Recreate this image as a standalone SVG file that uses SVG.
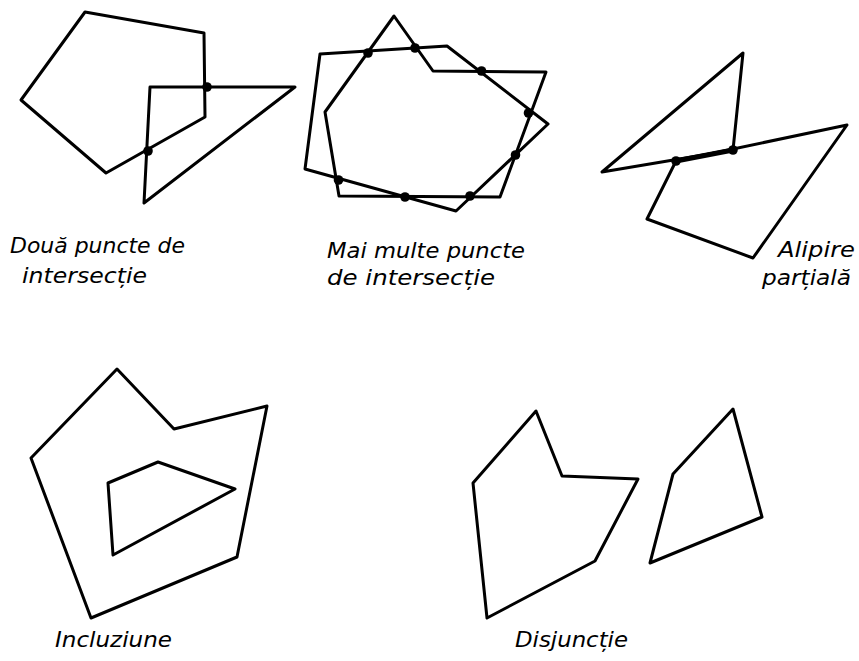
<svg xmlns="http://www.w3.org/2000/svg" width="859" height="661" viewBox="0 0 859 661">
<style>
.poly{fill:none;stroke:#000;stroke-width:3;stroke-linejoin:round;stroke-linecap:round}
.dot{fill:#000}
.lbl{font-family:"DejaVu Sans","Liberation Sans",sans-serif;font-style:oblique;font-size:22px;fill:#000}
</style>
<rect width="859" height="661" fill="#fff"/>
<g id="fig-doua">
<polygon class="poly" points="85,12 204,33 205,117 106,173 21,100"/>
<polygon class="poly" points="150,87 295,87 144,203"/>
<circle class="dot" cx="207" cy="87" r="4.8"/>
<circle class="dot" cx="148" cy="151" r="4.8"/>
<text class="lbl" x="10" y="253" textLength="175" lengthAdjust="spacingAndGlyphs">Două puncte de</text>
<text class="lbl" x="22" y="283" textLength="125" lengthAdjust="spacingAndGlyphs">intersecție</text>
</g>
<g id="fig-mai-multe">
<polygon class="poly" points="320,54 447,46 548,124 456,211 305,169"/>
<polygon class="poly" points="394,16 433,71 546,72 500,197 339,196 325,112"/>
<circle class="dot" cx="368" cy="53" r="4.8"/>
<circle class="dot" cx="415" cy="48" r="4.8"/>
<circle class="dot" cx="481.5" cy="71" r="4.8"/>
<circle class="dot" cx="528.5" cy="113" r="4.8"/>
<circle class="dot" cx="515.5" cy="155" r="4.8"/>
<circle class="dot" cx="470" cy="196" r="4.8"/>
<circle class="dot" cx="405" cy="197" r="4.8"/>
<circle class="dot" cx="338.5" cy="180" r="4.8"/>
<text class="lbl" x="327" y="258" textLength="198" lengthAdjust="spacingAndGlyphs">Mai multe puncte</text>
<text class="lbl" x="327" y="285" textLength="168" lengthAdjust="spacingAndGlyphs">de intersecție</text>
</g>
<g id="fig-alipire">
<polygon class="poly" points="743,53 733,150 602,172"/>
<polygon class="poly" points="676,161 847,125 753,258 647,219"/>
<line x1="676" y1="161" x2="733" y2="150" stroke="#000" stroke-width="5"/>
<circle class="dot" cx="676" cy="161" r="4.8"/>
<circle class="dot" cx="733" cy="150" r="4.8"/>
<text class="lbl" x="778" y="257" textLength="77" lengthAdjust="spacingAndGlyphs">Alipire</text>
<text class="lbl" x="762" y="285" textLength="89" lengthAdjust="spacingAndGlyphs">parțială</text>
</g>
<g id="fig-incluziune">
<polygon class="poly" points="117,369 174,429 267,406 237,557 91,618 31,458"/>
<polygon class="poly" points="158,462 235,489 113,555 108,483"/>
<text class="lbl" x="55" y="647" textLength="117" lengthAdjust="spacingAndGlyphs">Incluziune</text>
</g>
<g id="fig-disjunctie">
<polygon class="poly" points="536,411 562,476 638,479 595,561 487,618 473,483"/>
<polygon class="poly" points="733,409 762,517 650,563 673,474"/>
<text class="lbl" x="515" y="647" textLength="113" lengthAdjust="spacingAndGlyphs">Disjuncție</text>
</g>
<g id="connectors"/>
</svg>
